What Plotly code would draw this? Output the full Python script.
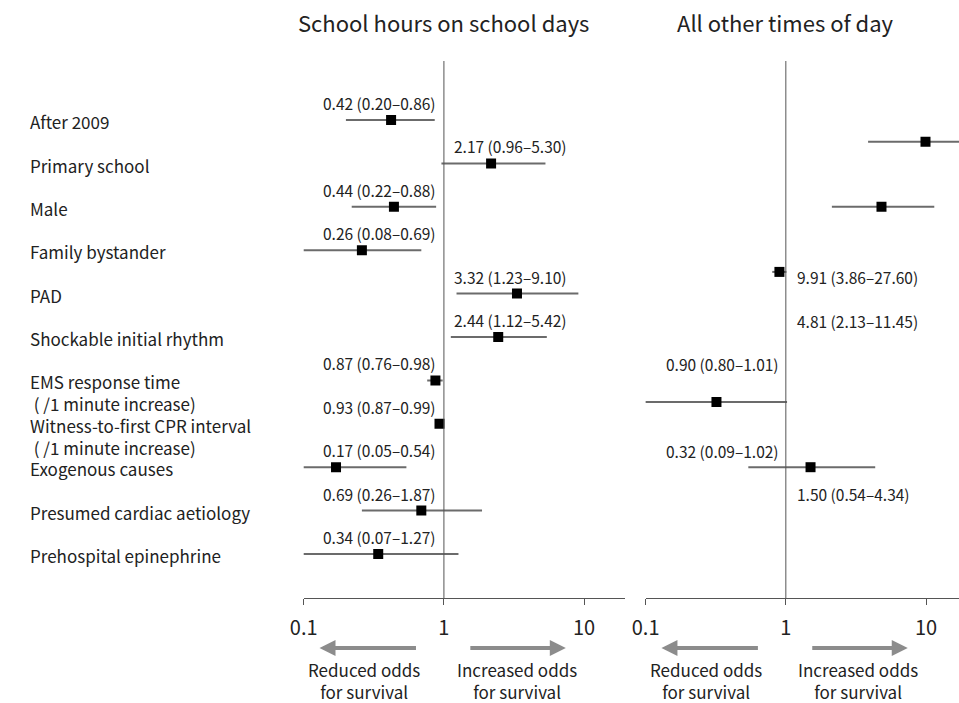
import plotly.graph_objects as go

# ---------------- data ----------------
labels = ["After 2009", "Primary school", "Male", "Family bystander", "PAD",
          "Shockable initial rhythm", "EMS response time<br> ( /1 minute increase)",
          "Witness-to-first CPR interval<br> ( /1 minute increase)", "Exogenous causes",
          "Presumed cardiac aetiology", "Prehospital epinephrine"]

school_or = [0.42, 2.17, 0.44, 0.26, 3.32, 2.44, 0.87, 0.93, 0.17, 0.69, 0.34]
school_lo = [0.20, 0.96, 0.22, 0.08, 1.23, 1.12, 0.76, 0.87, 0.05, 0.26, 0.07]
school_hi = [0.86, 5.30, 0.88, 0.69, 9.10, 5.42, 0.98, 0.99, 0.54, 1.87, 1.27]

other_or = [9.91, 4.81, 0.90, 0.32, 1.50]
other_lo = [3.86, 2.13, 0.80, 0.09, 0.54]
other_hi = [27.60, 11.45, 1.01, 1.02, 4.34]

tick_vals = [0.1, 1, 10]
tick_text = ["0.1", "1", "10"]

# ------------- layout constants -------------
W, H = 959, 703
FONT = "Noto Sans CJK KR"
other_rows = [0.5, 2.0, 3.5, 6.5, 8.0]
other_label_rows = [3.62, 4.63, 5.62, 7.63, 8.62]
ROW0, ROWH = 120, 43.4
Y_TOP, Y_BOT = 61, 598


def px(x):
    return x / W


def py(y):
    return 1 - y / H


def whisker(lo, hi, ys):
    xs, yy = [], []
    for a, b, y in zip(lo, hi, ys):
        xs += [a, b, None]
        yy += [y, y, None]
    return xs, yy


fig = go.Figure()
school_rows = list(range(len(labels)))

wx, wy = whisker(school_lo, school_hi, school_rows)
fig.add_trace(go.Scatter(x=wx, y=wy, mode="lines", line=dict(color="#6b6b6b", width=2),
                         xaxis="x", yaxis="y", showlegend=False, hoverinfo="skip"))
fig.add_trace(go.Scatter(x=school_or, y=school_rows, mode="markers",
                         marker=dict(symbol="square", size=10, color="black"),
                         xaxis="x", yaxis="y", showlegend=False))

wx2, wy2 = whisker(other_lo, other_hi, other_rows)
fig.add_trace(go.Scatter(x=wx2, y=wy2, mode="lines", line=dict(color="#6b6b6b", width=2),
                         xaxis="x2", yaxis="y2", showlegend=False, hoverinfo="skip"))
fig.add_trace(go.Scatter(x=other_or, y=other_rows, mode="markers",
                         marker=dict(symbol="square", size=10, color="black"),
                         xaxis="x2", yaxis="y2", showlegend=False))

y_lo = (Y_BOT - ROW0) / ROWH
y_hi = (Y_TOP - ROW0) / ROWH
ydom = [py(Y_BOT), py(Y_TOP)]

axis_common = dict(type="log", showgrid=False, zeroline=False, showline=True,
                   linecolor="#555", linewidth=1, ticks="outside", ticklen=6,
                   tickcolor="#555", tickvals=tick_vals, ticktext=tick_text,
                   tickfont=dict(size=20, color="#222", family=FONT),
                   ticklabelstandoff=6, fixedrange=True)

dec = 142.5
fig.update_layout(
    width=W, height=H, margin=dict(l=0, r=0, t=0, b=0),
    paper_bgcolor="white", plot_bgcolor="white",
    font=dict(family=FONT, color="#222"),
    xaxis=dict(domain=[px(294), px(620)], range=[-1, (620 - 436) / dec], anchor="y", **axis_common),
    xaxis2=dict(domain=[px(641), 1.0], range=[-1, (959 - 783) / dec], anchor="y2", **axis_common),
    yaxis=dict(domain=ydom, range=[y_lo, y_hi], visible=False, fixedrange=True),
    yaxis2=dict(domain=ydom, range=[y_lo, y_hi], visible=False, fixedrange=True, anchor="x2"),
)

for xr in ["x", "x2"]:
    fig.add_shape(type="line", xref=xr, yref="paper", x0=1, x1=1, y0=ydom[0], y1=ydom[1],
                  line=dict(color="#555", width=1))

ann = []
ann.append(dict(text="School hours on school days", x=px(436), y=py(22), xref="paper", yref="paper",
                xanchor="center", yanchor="middle",
                showarrow=False, font=dict(size=22, color="#222")))
ann.append(dict(text="All other times of day", x=px(783), y=py(22), xref="paper", yref="paper",
                xanchor="center", yanchor="middle",
                showarrow=False, font=dict(size=22, color="#222")))

for i, lab in enumerate(labels):
    two = "<br>" in lab
    ann.append(dict(text=lab.replace("<br> ", "<br>\u00a0"),
                    x=px(14), xref="paper", xanchor="left", align="left",
                    y=i + (0.29 if two else 0.04), yref="y", yanchor="middle",
                    showarrow=False, font=dict(size=17, color="#222")))


def fmt(o, l, h):
    return f"{o:.2f} ({l:.2f}\u2013{h:.2f})"


for i, (o, l, h) in enumerate(zip(school_or, school_lo, school_hi)):
    right = o < 1
    ann.append(dict(text=fmt(o, l, h), x=0, xref="x", y=i - 0.39, yref="y",
                    xanchor="right" if right else "left", yanchor="middle",
                    xshift=-6 if right else 8,
                    showarrow=False, font=dict(size=15.5, color="#222")))

for k, (o, l, h) in enumerate(zip(other_or, other_lo, other_hi)):
    right = o < 1
    ann.append(dict(text=fmt(o, l, h), x=0, xref="x2", y=other_label_rows[k], yref="y2",
                    xanchor="right" if right else "left", yanchor="middle",
                    xshift=-5 if right else 9,
                    showarrow=False, font=dict(size=15.5, color="#222")))

for c in [436, 783]:
    for head, tail in [(c - 126, c - 28), (c + 124, c + 27)]:
        ann.append(dict(text="", x=px(head), y=py(648), xref="paper", yref="paper",
                        ax=tail - head, ay=0, showarrow=True, arrowhead=2, arrowsize=0.8,
                        arrowwidth=4, arrowcolor="#8c8c8c"))
    ann.append(dict(text="Reduced odds<br>for survival", x=px(c - 81), y=py(680), xref="paper",
                    yref="paper", xanchor="center", yanchor="middle",
                    showarrow=False, font=dict(size=17, color="#222")))
    ann.append(dict(text="Increased odds<br>for survival", x=px(c + 74), y=py(680), xref="paper",
                    yref="paper", xanchor="center", yanchor="middle",
                    showarrow=False, font=dict(size=17, color="#222")))

fig.update_layout(annotations=ann)
fig.write_html("out.html", config={"displayModeBar": False},
               post_script="document.body.style.margin='0px';")
